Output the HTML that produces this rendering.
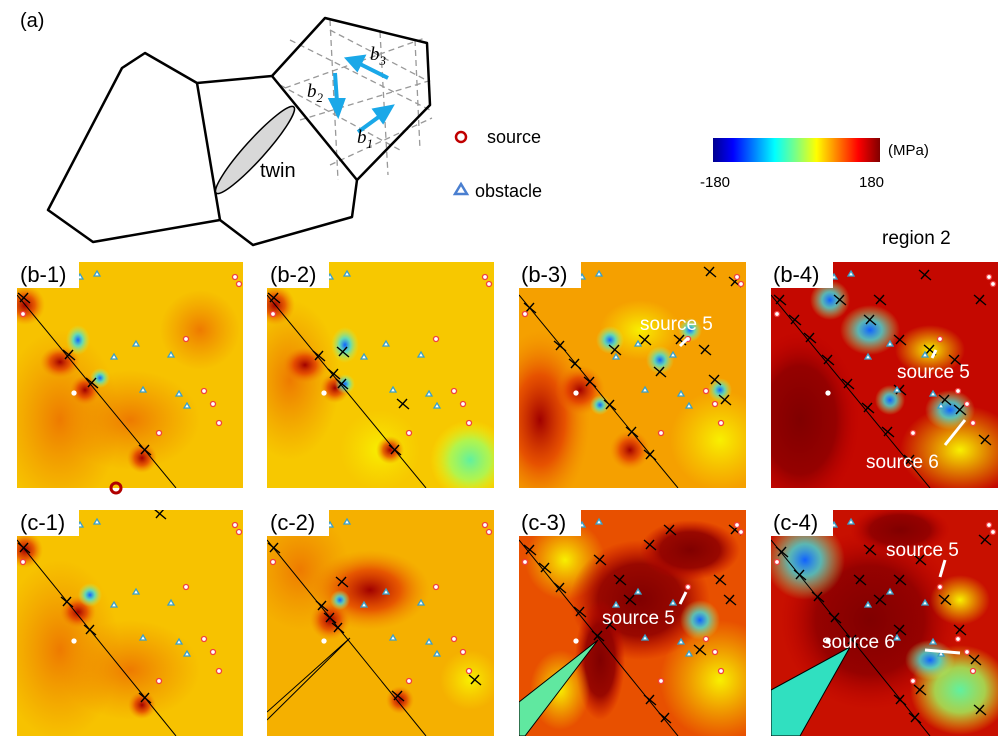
<!DOCTYPE html>
<html><head><meta charset="utf-8"><style>
body{margin:0;background:#fff;}
svg{display:block;font-family:"Liberation Sans",Arial,sans-serif;}
</style></head><body>
<svg width="1006" height="750" viewBox="0 0 1006 750" xmlns="http://www.w3.org/2000/svg">
<defs>
<linearGradient id="cb" x1="0" x2="1" y1="0" y2="0">
<stop offset="0" stop-color="#00008f"/><stop offset="0.12" stop-color="#0000ff"/><stop offset="0.37" stop-color="#00ffff"/><stop offset="0.5" stop-color="#80ff80"/><stop offset="0.62" stop-color="#ffff00"/><stop offset="0.87" stop-color="#ff0000"/><stop offset="1" stop-color="#800000"/>
</linearGradient>
<radialGradient id="red"><stop offset="0" stop-color="#a00000"/><stop offset="0.5" stop-color="#e03000" stop-opacity="0.7"/><stop offset="1" stop-color="#f08000" stop-opacity="0"/></radialGradient>
<radialGradient id="org"><stop offset="0" stop-color="#ee7a00"/><stop offset="1" stop-color="#ee8a00" stop-opacity="0"/></radialGradient>
<radialGradient id="cy"><stop offset="0" stop-color="#1060ff"/><stop offset="0.4" stop-color="#40e0e0" stop-opacity="0.8"/><stop offset="1" stop-color="#c0ff60" stop-opacity="0"/></radialGradient>
<radialGradient id="dr"><stop offset="0" stop-color="#800000"/><stop offset="0.6" stop-color="#900000" stop-opacity="0.9"/><stop offset="1" stop-color="#c00000" stop-opacity="0"/></radialGradient>
<radialGradient id="yl"><stop offset="0" stop-color="#f8f000"/><stop offset="1" stop-color="#f8e000" stop-opacity="0"/></radialGradient>
<radialGradient id="gr"><stop offset="0" stop-color="#60f0a0"/><stop offset="0.5" stop-color="#a0ff60" stop-opacity="0.8"/><stop offset="1" stop-color="#ffff00" stop-opacity="0"/></radialGradient>
<g id="mk">
<g fill="#fff" stroke="#3aa0c8" stroke-width="1.3">
<polygon points="63,12 66,17 60,17"/><polygon points="80,9 83,14 77,14"/><polygon points="119,79 122,84 116,84"/><polygon points="97,92 100,97 94,97"/><polygon points="154,90 157,95 151,95"/><polygon points="126,125 129,130 123,130"/><polygon points="162,129 165,134 159,134"/><polygon points="170,141 173,146 167,146"/>
</g>
<g fill="#fff" stroke="#f04040" stroke-width="1.3">
<circle cx="218" cy="15" r="2.5"/><circle cx="222" cy="22" r="2.5"/><circle cx="6" cy="52" r="2.5"/><circle cx="169" cy="77" r="2.5"/><circle cx="57" cy="131" r="2" stroke="#fff"/><circle cx="187" cy="129" r="2.5"/><circle cx="196" cy="142" r="2.5"/><circle cx="202" cy="161" r="2.5"/><circle cx="142" cy="171" r="2.5"/>
</g>
</g>
<path id="d" d="M-6,-5 L6,5 M-4,4 L4,-5" stroke="#000" stroke-width="1.4" fill="none"/>
<path id="e" d="M-7,0 L7,0 M0,0 L0,-6" stroke="#000" stroke-width="1.4" fill="none"/>
<clipPath id="p1"><rect x="17" y="262" width="226" height="226"/></clipPath>
<clipPath id="p2"><rect x="267" y="262" width="227" height="226"/></clipPath>
<clipPath id="p3"><rect x="519" y="262" width="227" height="226"/></clipPath>
<clipPath id="p4"><rect x="771" y="262" width="227" height="226"/></clipPath>
<clipPath id="q1"><rect x="17" y="510" width="226" height="226"/></clipPath>
<clipPath id="q2"><rect x="267" y="510" width="227" height="226"/></clipPath>
<clipPath id="q3"><rect x="519" y="510" width="227" height="226"/></clipPath>
<clipPath id="q4"><rect x="771" y="510" width="227" height="226"/></clipPath>
</defs>

<!-- (a) -->
<text x="20" y="27" font-size="20">(a)</text>
<g stroke="#999" stroke-width="1.3" stroke-dasharray="6,4" fill="none">
<line x1="330" y1="20" x2="338" y2="180"/><line x1="380" y1="32" x2="388" y2="175"/><line x1="415" y1="40" x2="420" y2="150"/>
<line x1="285" y1="88" x2="425" y2="38"/><line x1="300" y1="120" x2="432" y2="80"/><line x1="330" y1="165" x2="432" y2="118"/>
<line x1="290" y1="40" x2="430" y2="110"/><line x1="280" y1="85" x2="400" y2="150"/><line x1="330" y1="30" x2="430" y2="82"/>
</g>
<g fill="none" stroke="#000" stroke-width="2.5" stroke-linejoin="round">
<polygon points="48,210 122,68 145,53 197,83 272,76 325,18 427,43 430,105 357,180 352,217 253,245 220,220 93,242"/>
<polyline points="197,83 220,220"/>
<polyline points="272,76 357,180"/>
</g>
<ellipse cx="255" cy="150" rx="58" ry="10" transform="rotate(-48 255 150)" fill="#d8d8d8" stroke="#000" stroke-width="1.5"/>
<text x="260" y="177" font-size="20">twin</text>
<g stroke="#1aa8e8" stroke-width="4" fill="#1aa8e8">
<line x1="335" y1="73" x2="337" y2="102"/><polygon points="331,100 343,100 338,114"/>
<line x1="388" y1="78" x2="360" y2="64"/><polygon points="363,57 357,69 348,59"/>
<line x1="358" y1="132" x2="380" y2="116"/><polygon points="375,110 383,121 391,107"/>
</g>
<text x="370" y="60" font-size="19" font-style="italic" font-family="Liberation Serif">b<tspan font-size="13" dy="5">3</tspan></text>
<text x="307" y="97" font-size="19" font-style="italic" font-family="Liberation Serif">b<tspan font-size="13" dy="5">2</tspan></text>
<text x="357" y="143" font-size="19" font-style="italic" font-family="Liberation Serif">b<tspan font-size="13" dy="5">1</tspan></text>

<circle cx="461" cy="137" r="5" fill="none" stroke="#c00000" stroke-width="2.5"/>
<text x="487" y="143" font-size="18">source</text>
<polygon points="461,184 467,194 455,194" fill="none" stroke="#4a7fd0" stroke-width="2.5"/>
<text x="475" y="197" font-size="18">obstacle</text>
<rect x="713" y="138" width="167" height="24" fill="url(#cb)"/>
<text x="888" y="155" font-size="15">(MPa)</text>
<text x="700" y="187" font-size="15">-180</text>
<text x="859" y="187" font-size="15">180</text>
<text x="882" y="244" font-size="19">region 2</text>

<!-- panel b-1 -->
<g clip-path="url(#p1)">
<rect x="17" y="262" width="226" height="226" fill="#f7c200"/>
<ellipse cx="60" cy="420" rx="60" ry="90" fill="url(#org)"/>
<ellipse cx="130" cy="420" rx="70" ry="50" fill="url(#org)"/>
<ellipse cx="200" cy="330" rx="40" ry="40" fill="url(#org)"/>
<ellipse cx="25" cy="305" rx="20" ry="20" fill="url(#red)"/>
<ellipse cx="60" cy="362" rx="20" ry="16" fill="url(#red)"/>
<ellipse cx="85" cy="390" rx="15" ry="15" fill="url(#red)"/>
<ellipse cx="142" cy="458" rx="15" ry="15" fill="url(#red)"/>
<ellipse cx="78" cy="340" rx="12" ry="15" fill="url(#cy)"/>
<ellipse cx="100" cy="378" rx="10" ry="10" fill="url(#cy)"/>
<line x1="17" y1="295" x2="176" y2="488" stroke="#000" stroke-width="1"/>
<use href="#d" x="24" y="298"/><use href="#d" x="69" y="355"/><use href="#d" x="92" y="383"/><use href="#d" x="145" y="450"/>
<use href="#mk" x="17" y="262"/>
</g>
<!-- panel b-2 -->
<g clip-path="url(#p2)">
<rect x="267" y="262" width="227" height="226" fill="#f7c800"/>
<ellipse cx="290" cy="380" rx="50" ry="80" fill="url(#org)"/>
<ellipse cx="470" cy="460" rx="40" ry="40" fill="url(#gr)"/>
<ellipse cx="380" cy="450" rx="40" ry="40" fill="url(#yl)"/>
<ellipse cx="275" cy="305" rx="20" ry="20" fill="url(#red)"/>
<ellipse cx="305" cy="365" rx="22" ry="18" fill="url(#red)"/>
<ellipse cx="335" cy="388" rx="15" ry="15" fill="url(#red)"/>
<ellipse cx="390" cy="450" rx="14" ry="14" fill="url(#red)"/>
<ellipse cx="345" cy="384" rx="10" ry="10" fill="url(#cy)"/>
<ellipse cx="345" cy="345" rx="14" ry="18" fill="url(#cy)"/>
<line x1="267" y1="295" x2="426" y2="488" stroke="#000" stroke-width="1"/>
<use href="#d" x="274" y="298"/><use href="#d" x="319" y="356"/><use href="#d" x="334" y="374"/><use href="#d" x="342" y="384"/><use href="#d" x="343" y="352"/><use href="#d" x="403" y="404"/><use href="#d" x="395" y="450"/>
<use href="#mk" x="267" y="262"/>
</g>
<!-- panel b-3 -->
<g clip-path="url(#p3)">
<rect x="519" y="262" width="227" height="226" fill="#f5a000"/>
<ellipse cx="540" cy="420" rx="50" ry="90" fill="url(#red)"/>
<ellipse cx="720" cy="440" rx="50" ry="50" fill="url(#yl)"/>
<ellipse cx="640" cy="330" rx="40" ry="30" fill="url(#yl)"/>
<ellipse cx="580" cy="390" rx="25" ry="25" fill="url(#red)"/>
<ellipse cx="630" cy="450" rx="20" ry="20" fill="url(#red)"/>
<ellipse cx="610" cy="340" rx="14" ry="14" fill="url(#cy)"/>
<ellipse cx="660" cy="360" rx="14" ry="14" fill="url(#cy)"/>
<ellipse cx="690" cy="330" rx="12" ry="12" fill="url(#cy)"/>
<ellipse cx="720" cy="390" rx="12" ry="12" fill="url(#cy)"/>
<ellipse cx="600" cy="405" rx="10" ry="10" fill="url(#cy)"/>
<line x1="519" y1="295" x2="678" y2="488" stroke="#000" stroke-width="1"/>
<use href="#d" x="530" y="308"/><use href="#d" x="560" y="346"/><use href="#d" x="575" y="364"/><use href="#d" x="590" y="382"/><use href="#d" x="610" y="405"/><use href="#d" x="632" y="432"/><use href="#d" x="650" y="455"/><use href="#d" x="615" y="350"/><use href="#d" x="645" y="340"/><use href="#d" x="680" y="340"/><use href="#d" x="705" y="350"/><use href="#d" x="715" y="380"/><use href="#d" x="725" y="400"/><use href="#d" x="710" y="272"/><use href="#d" x="735" y="282"/><use href="#d" x="660" y="372"/>
<use href="#mk" x="519" y="262"/>
</g>
<!-- panel b-4 -->
<g clip-path="url(#p4)">
<rect x="771" y="262" width="227" height="226" fill="#c40800"/>
<ellipse cx="800" cy="420" rx="60" ry="90" fill="url(#dr)"/>
<ellipse cx="960" cy="450" rx="60" ry="45" fill="url(#yl)"/>
<ellipse cx="870" cy="330" rx="30" ry="25" fill="url(#cy)"/>
<ellipse cx="930" cy="350" rx="35" ry="25" fill="url(#yl)"/>
<ellipse cx="950" cy="410" rx="25" ry="20" fill="url(#cy)"/>
<ellipse cx="830" cy="300" rx="20" ry="20" fill="url(#cy)"/>
<ellipse cx="890" cy="400" rx="15" ry="15" fill="url(#cy)"/>
<line x1="771" y1="295" x2="930" y2="488" stroke="#000" stroke-width="1"/>
<use href="#d" x="780" y="300"/><use href="#d" x="795" y="320"/><use href="#d" x="810" y="338"/><use href="#d" x="828" y="360"/><use href="#d" x="848" y="384"/><use href="#d" x="868" y="408"/><use href="#d" x="888" y="432"/><use href="#d" x="910" y="460"/><use href="#d" x="840" y="300"/><use href="#d" x="870" y="320"/><use href="#d" x="900" y="340"/><use href="#d" x="930" y="350"/><use href="#d" x="955" y="360"/><use href="#d" x="945" y="400"/><use href="#d" x="960" y="410"/><use href="#d" x="900" y="390"/><use href="#d" x="925" y="275"/><use href="#d" x="980" y="300"/><use href="#d" x="985" y="440"/><use href="#d" x="880" y="300"/>
<use href="#mk" x="771" y="262"/>
</g>
<!-- panel c-1 -->
<g clip-path="url(#q1)">
<rect x="17" y="510" width="226" height="226" fill="#f7c200"/>
<ellipse cx="60" cy="650" rx="60" ry="90" fill="url(#org)"/>
<ellipse cx="130" cy="670" rx="70" ry="50" fill="url(#org)"/>
<ellipse cx="25" cy="550" rx="18" ry="18" fill="url(#red)"/>
<ellipse cx="78" cy="612" rx="18" ry="16" fill="url(#red)"/>
<ellipse cx="142" cy="705" rx="14" ry="14" fill="url(#red)"/>
<ellipse cx="90" cy="595" rx="12" ry="12" fill="url(#cy)"/>
<line x1="17" y1="540" x2="176" y2="736" stroke="#000" stroke-width="1"/>
<use href="#d" x="24" y="548"/><use href="#d" x="67" y="602"/><use href="#d" x="90" y="630"/><use href="#d" x="145" y="698"/><use href="#d" x="160" y="514"/>
<use href="#mk" x="17" y="510"/>
</g>
<!-- panel c-2 -->
<g clip-path="url(#q2)">
<rect x="267" y="510" width="227" height="226" fill="#f5b000"/>
<ellipse cx="300" cy="570" rx="50" ry="60" fill="url(#org)"/>
<ellipse cx="370" cy="590" rx="60" ry="40" fill="url(#red)"/>
<ellipse cx="330" cy="620" rx="20" ry="20" fill="url(#red)"/>
<ellipse cx="400" cy="700" rx="14" ry="14" fill="url(#red)"/>
<ellipse cx="470" cy="680" rx="30" ry="30" fill="url(#yl)"/>
<ellipse cx="340" cy="600" rx="10" ry="10" fill="url(#cy)"/>
<line x1="267" y1="540" x2="426" y2="736" stroke="#000" stroke-width="1"/>
<polyline points="267,720 350,638 267,712" fill="none" stroke="#000"/>
<use href="#d" x="274" y="548"/><use href="#d" x="322" y="606"/><use href="#d" x="330" y="618"/><use href="#d" x="338" y="628"/><use href="#d" x="342" y="582"/><use href="#d" x="398" y="696"/><use href="#d" x="475" y="680"/>
<use href="#mk" x="267" y="510"/>
</g>
<!-- panel c-3 -->
<g clip-path="url(#q3)">
<rect x="519" y="510" width="227" height="226" fill="#e85000"/>
<ellipse cx="720" cy="680" rx="60" ry="60" fill="url(#yl)"/>
<ellipse cx="565" cy="560" rx="40" ry="40" fill="url(#yl)"/>
<ellipse cx="640" cy="600" rx="70" ry="60" fill="url(#dr)"/>
<ellipse cx="690" cy="550" rx="50" ry="30" fill="url(#dr)"/>
<ellipse cx="600" cy="660" rx="25" ry="60" fill="url(#dr)"/>
<ellipse cx="700" cy="620" rx="20" ry="20" fill="url(#cy)"/>
<ellipse cx="560" cy="690" rx="30" ry="40" fill="url(#yl)"/>
<polygon points="519,702 598,640 525,736 519,736" fill="#60e8a0" stroke="#000"/>
<line x1="519" y1="540" x2="678" y2="736" stroke="#000" stroke-width="1"/>
<use href="#d" x="530" y="550"/><use href="#d" x="545" y="568"/><use href="#d" x="560" y="588"/><use href="#d" x="580" y="612"/><use href="#d" x="598" y="636"/><use href="#d" x="650" y="700"/><use href="#d" x="665" y="718"/><use href="#d" x="600" y="560"/><use href="#d" x="620" y="580"/><use href="#d" x="650" y="545"/><use href="#d" x="670" y="530"/><use href="#d" x="720" y="580"/><use href="#d" x="730" y="600"/><use href="#d" x="700" y="650"/><use href="#d" x="735" y="530"/><use href="#d" x="630" y="600"/><use href="#d" x="610" y="625"/>
<use href="#mk" x="519" y="510"/>
</g>
<!-- panel c-4 -->
<g clip-path="url(#q4)">
<rect x="771" y="510" width="227" height="226" fill="#c81000"/>
<ellipse cx="870" cy="620" rx="90" ry="90" fill="url(#dr)"/>
<ellipse cx="900" cy="530" rx="50" ry="25" fill="url(#dr)"/>
<ellipse cx="805" cy="560" rx="40" ry="40" fill="url(#cy)"/>
<ellipse cx="960" cy="690" rx="50" ry="45" fill="url(#gr)"/>
<ellipse cx="960" cy="600" rx="30" ry="25" fill="url(#yl)"/>
<ellipse cx="930" cy="660" rx="25" ry="20" fill="url(#cy)"/>
<polygon points="771,690 850,647 800,736 771,736" fill="#30e0c0" stroke="#000"/>
<line x1="771" y1="540" x2="930" y2="736" stroke="#000" stroke-width="1"/>
<use href="#d" x="782" y="552"/><use href="#d" x="800" y="575"/><use href="#d" x="818" y="597"/><use href="#d" x="835" y="618"/><use href="#d" x="852" y="640"/><use href="#d" x="900" y="700"/><use href="#d" x="915" y="718"/><use href="#d" x="860" y="580"/><use href="#d" x="880" y="600"/><use href="#d" x="900" y="580"/><use href="#d" x="920" y="560"/><use href="#d" x="945" y="600"/><use href="#d" x="960" y="630"/><use href="#d" x="975" y="660"/><use href="#d" x="920" y="690"/><use href="#d" x="980" y="710"/><use href="#d" x="985" y="540"/><use href="#d" x="870" y="550"/><use href="#d" x="900" y="630"/>
<use href="#mk" x="771" y="510"/>
</g>

<!-- labels -->
<g font-size="22">
<rect x="17" y="258" width="62" height="30" fill="#fff"/><text x="20" y="282">(b-1)</text>
<rect x="267" y="258" width="62" height="30" fill="#fff"/><text x="270" y="282">(b-2)</text>
<rect x="519" y="258" width="62" height="30" fill="#fff"/><text x="521" y="282">(b-3)</text>
<rect x="771" y="258" width="62" height="30" fill="#fff"/><text x="773" y="282">(b-4)</text>
<rect x="17" y="506" width="62" height="30" fill="#fff"/><text x="20" y="530">(c-1)</text>
<rect x="267" y="506" width="62" height="30" fill="#fff"/><text x="270" y="530">(c-2)</text>
<rect x="519" y="506" width="62" height="30" fill="#fff"/><text x="521" y="530">(c-3)</text>
<rect x="771" y="506" width="62" height="30" fill="#fff"/><text x="773" y="530">(c-4)</text>
</g>
<circle cx="116" cy="488" r="5" fill="none" stroke="#b00000" stroke-width="3"/>
<g fill="#fff" font-size="19">
<text x="640" y="330">source 5</text>
<text x="897" y="378">source 5</text>
<text x="866" y="468">source 6</text>
<text x="602" y="624">source 5</text>
<text x="886" y="556">source 5</text>
<text x="822" y="648">source 6</text>
</g>
<g stroke="#fff" stroke-width="3">
<line x1="688" y1="338" x2="680" y2="346"/>
<line x1="936" y1="350" x2="932" y2="358"/>
<line x1="965" y1="420" x2="945" y2="445"/>
<line x1="686" y1="592" x2="680" y2="604"/>
<line x1="945" y1="560" x2="940" y2="577"/>
<line x1="925" y1="650" x2="960" y2="653"/>
</g>
</svg>
</body></html>
